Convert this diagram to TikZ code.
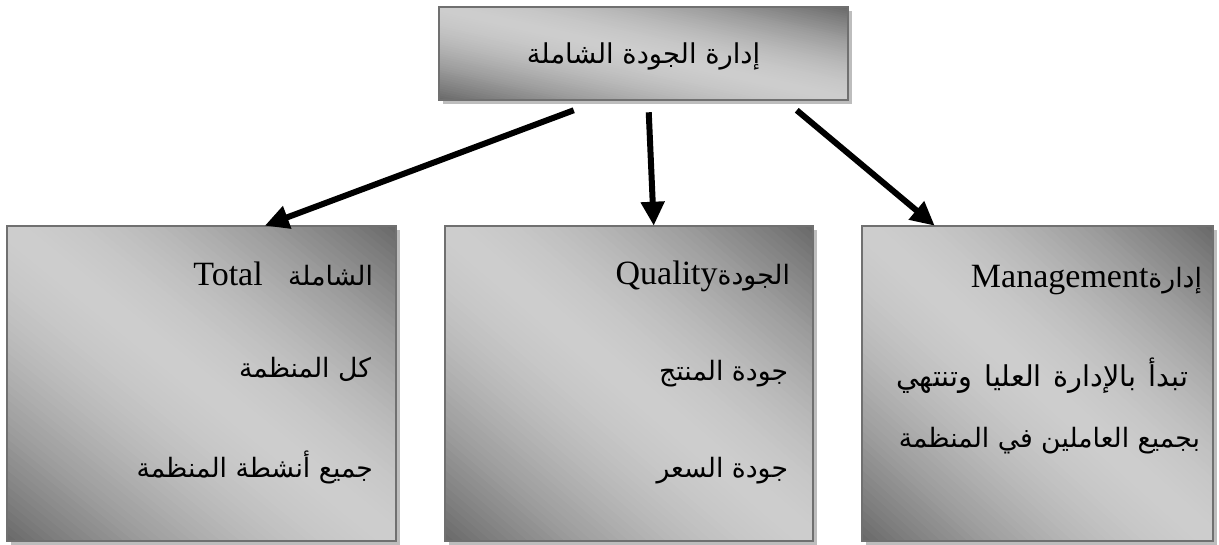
\documentclass[tikz,border=0pt]{standalone}
\usepackage{fontspec}
\usetikzlibrary{arrows.meta,shadows,calc}
\TeXXeTstate=1
\setmainfont{Liberation Serif}
\newfontfamily\arabicfont[Script=Arabic]{DejaVu Sans}
\definecolor{dk}{HTML}{686868}
\definecolor{lt}{HTML}{CDCDCD}
\definecolor{bd}{HTML}{707070}
\definecolor{sh}{HTML}{BDBDBD}
\tikzset{
  box/.style={draw=none, inner sep=0pt,
    drop shadow={shadow xshift=3pt, shadow yshift=-3pt, fill=sh, opacity=1}},
  border/.style={draw=bd, line width=1.5pt},
  txt/.style={inner sep=0pt, font=\arabicfont\fontsize{20}{24}\selectfont},
  arr/.style={line width=4.5pt, -{Triangle[length=18pt,width=17pt]}},
}
\newcommand\latw[1]{{\rmfamily\fontsize{25.5}{30}\selectfont #1}}
% diagonal gradient: dark at top-right and bottom-left corners, light along the other diagonal
\newcommand\diagfill[3]{%
  \begin{scope}
    \clip (#1.south west) rectangle (#1.north east);
    \begin{scope}[shift={(#1.center)}, x=#2, y=#3]
      \foreach \i in {0,...,79} {
        \pgfmathsetmacro\ua{-2+\i*0.05}
        \pgfmathsetmacro\ub{\ua+0.065}
        \pgfmathtruncatemacro\mm{min(100,100*(abs(\ua+0.025)/2)^1.6)}
        \fill[dk!\mm!lt] (\ua/2-2,\ua/2+2) -- (\ua/2+2,\ua/2-2) -- (\ub/2+2,\ub/2-2) -- (\ub/2-2,\ub/2+2) -- cycle;
      }
    \end{scope}
  \end{scope}
  \draw[border] (#1.south west) rectangle (#1.north east);}
\begin{document}
\begin{tikzpicture}[x=0.75pt, y=-0.75pt]
\useasboundingbox (0,0) rectangle (1219,545);
% boxes
\node[box, minimum width=306.75pt, minimum height=69.75pt] (top) at (643.5,53.5) {};
\node[box, minimum width=291.75pt, minimum height=236.25pt] (b1) at (201.5,383.5) {};
\node[box, minimum width=276pt, minimum height=236.25pt] (b2) at (629,383.5) {};
\node[box, minimum width=263.25pt, minimum height=236.25pt] (b3) at (1037.5,383.5) {};
\diagfill{top}{153.375pt}{34.875pt}
\diagfill{b1}{145.875pt}{118.125pt}
\diagfill{b2}{138pt}{118.125pt}
\diagfill{b3}{131.625pt}{118.125pt}
% top text
\node[txt, anchor=base, font=\arabicfont\fontsize{20.5}{24}\selectfont] (t0) at ($(top.center)+(0,10)$) {\beginR إدارة الجودة الشاملة\endR};
% box 1
\node[txt, anchor=base east] (t11) at ($(b1.north east)+(-23,60)$) {\beginR الشاملة\ \ \ \beginL\latw{Total}\endL\endR};
\node[txt, anchor=base east] (t12) at ($(b1.north east)+(-25,152)$) {\beginR كل المنظمة\endR};
\node[txt, anchor=base east] (t13) at ($(b1.north east)+(-23,252)$) {\beginR جميع أنشطة المنظمة\endR};
% box 2
\node[txt, anchor=base east] (t21) at ($(b2.north east)+(-23,59)$) {\beginR الجودة\beginL\latw{Quality}\endL\endR};
\node[txt, anchor=base east] (t22) at ($(b2.north east)+(-25,155)$) {\beginR جودة المنتج\endR};
\node[txt, anchor=base east] (t23) at ($(b2.north east)+(-25,252)$) {\beginR جودة السعر\endR};
% box 3
\node[txt, anchor=base east] (t31) at ($(b3.north east)+(-11,62)$) {\beginR إدارة\beginL\latw{Management}\endL\endR};
\node[txt, anchor=base east, font=\arabicfont\fontsize{21.5}{24}\selectfont] (t32) at ($(b3.north east)+(-25,161)$) {\spaceskip=9pt\relax\beginR تبدأ بالإدارة العليا وتنتهي\endR};
\node[txt, anchor=base east] (t33) at ($(b3.north east)+(-13,222)$) {\beginR بجميع العاملين في المنظمة\endR};
% arrows
\draw[arr] ($(top.south west)+(135,10)$) -- ($(b1.north west)+(258,0)$);
\draw[arr] ($(top.south west)+(210,12)$) -- ($(b2.north west)+(209,0)$);
\draw[arr] ($(top.south west)+(358,10)$) -- ($(b3.north west)+(73,0)$);
\end{tikzpicture}
\end{document}
